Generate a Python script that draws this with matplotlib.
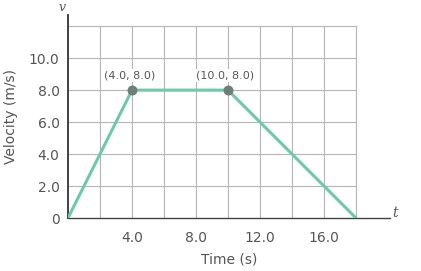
import matplotlib
matplotlib.use("Agg")
import matplotlib.pyplot as plt

# data
time_s = [0.0, 4.0, 10.0, 18.0]
velocity = [0.0, 8.0, 8.0, 0.0]
marked_t = [4.0, 10.0]
marked_v = [8.0, 8.0]
marked_labels = ["(4.0, 8.0)", "(10.0, 8.0)"]
xtick_vals = [4.0, 8.0, 12.0, 16.0]
xtick_labels = ["4.0", "8.0", "12.0", "16.0"]
ytick_vals = [0.0, 2.0, 4.0, 6.0, 8.0, 10.0]
ytick_labels = ["0", "2.0", "4.0", "6.0", "8.0", "10.0"]
grid_x = [0, 2, 4, 6, 8, 10, 12, 14, 16, 18]
grid_y = [0, 2, 4, 6, 8, 10, 12]

text_c = "#555555"
fig = plt.figure(figsize=(4.21, 2.71), dpi=100)
ax = fig.add_axes([68/421, 53/271, 321.6/421, 203/271])
ax.set_xlim(0, 20.1)
ax.set_ylim(0, 12.7)

# grid
for gx in grid_x[1:]:
    ax.plot([gx, gx], [0, grid_y[-1]], color="#b5b5b5", lw=0.8, zorder=1)
for gy in grid_y[1:]:
    ax.plot([0, grid_x[-1]], [gy, gy], color="#b5b5b5", lw=0.8, zorder=1)

ax.plot(time_s, velocity, color="#6dc9a6", lw=2.2, zorder=3, solid_capstyle="round")
ax.scatter(marked_t, marked_v, s=38, color="#6e7f78", zorder=4)
for tx, ty, lab in zip(marked_t, marked_v, marked_labels):
    ax.annotate(lab, (tx, ty), xytext=(-2, 7), textcoords="offset points",
                ha="center", va="bottom", fontsize=8, color=text_c,
                bbox=dict(boxstyle="square,pad=0.1", fc="white", ec="none"), zorder=5)

for s in ["top", "right"]:
    ax.spines[s].set_visible(False)
ax.spines["left"].set_color("#333333")
ax.spines["bottom"].set_color("#444444")
ax.spines["left"].set_linewidth(1.3)
ax.spines["bottom"].set_linewidth(1.0)

ax.set_xticks(xtick_vals)
ax.set_xticklabels(xtick_labels)
ax.set_yticks(ytick_vals)
ax.set_yticklabels(ytick_labels)
ax.tick_params(axis="x", length=0, pad=9, labelsize=10, colors=text_c)
ax.tick_params(axis="y", length=0, pad=6, labelsize=10, colors=text_c)

ax.set_xlabel("Time (s)", fontsize=10, color=text_c, labelpad=6)
ax.set_ylabel("Velocity (m/s)", fontsize=10, color=text_c, labelpad=8)

ax.text(-0.4, 12.75, "v", fontsize=9, style="italic", family="DejaVu Serif",
        color=text_c, ha="center", va="bottom", clip_on=False)
ax.text(20.25, 0.3, "t", fontsize=10, style="italic", family="DejaVu Serif",
        color=text_c, ha="left", va="center", clip_on=False)

fig.savefig("out.png", dpi=100)
